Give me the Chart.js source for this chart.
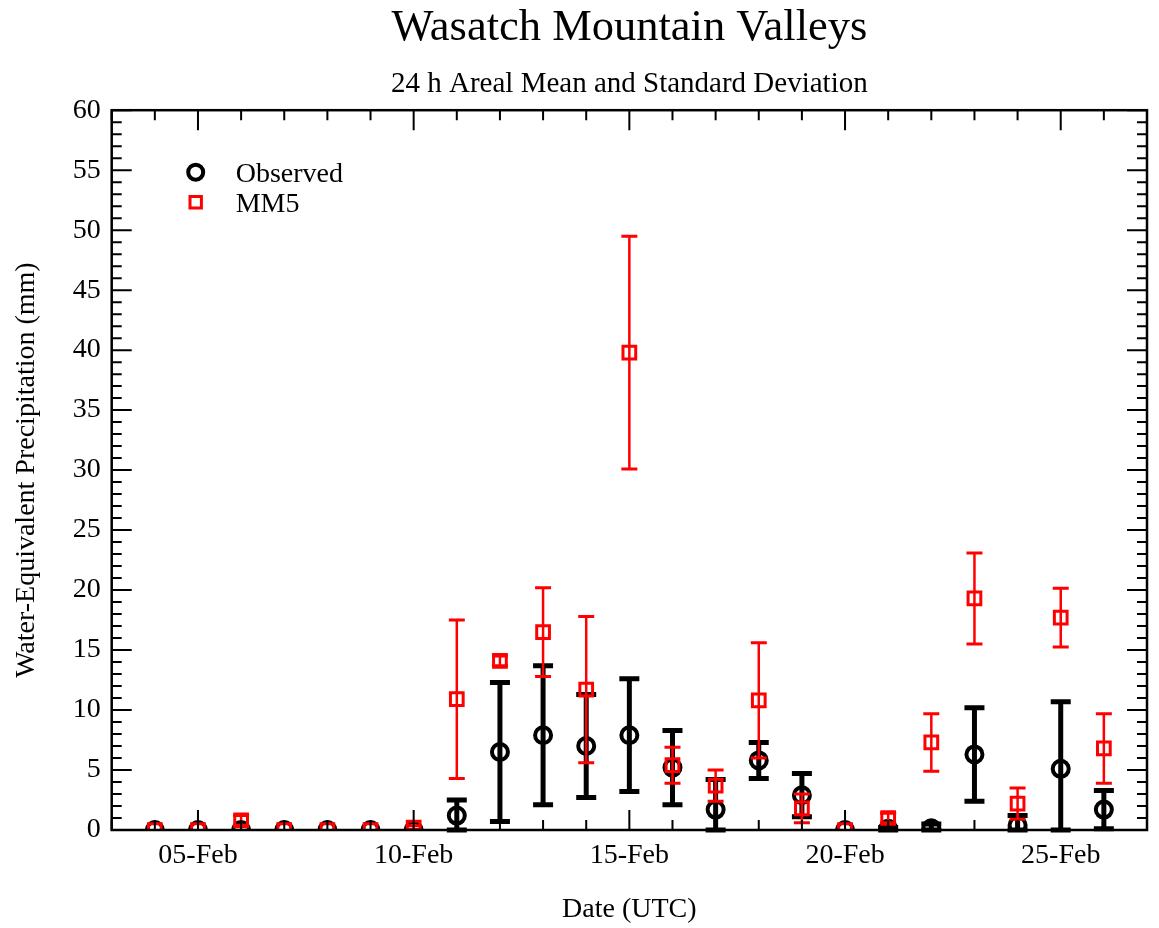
<!DOCTYPE html>
<html>
<head>
<meta charset="utf-8">
<script src="https://cdn.jsdelivr.net/npm/chart.js@4.4.1/dist/chart.umd.min.js"></script>
<style>
  html, body { margin: 0; padding: 0; background: #fff; }
  #wrap { width: 1159px; height: 928px; }
</style>
</head>
<body>
<div id="wrap"><canvas id="chart"></canvas></div>
<script>
// dias de fevereiro (UTC)
const days = [4, 5, 6, 7, 8, 9, 10, 11, 12, 13, 14, 15, 16, 17, 18, 19, 20, 21, 22, 23, 24, 25, 26];

// observado: media e desvio padrao (mm)
const obsMean = [0, 0, 0, 0, 0, 0, 0, 1.2, 6.5, 7.9, 7.0, 7.9, 5.2, 1.7, 5.8, 2.9, 0, 0.1, 0.15, 6.3, 0.4, 5.1, 1.7];
const obsSd   = [0, 0, 0, 0, 0, 0, 0, 1.3, 5.8, 5.8, 4.3, 4.7, 3.1, 2.5, 1.5, 1.8, 0, 0.1, 0.35, 3.9, 0.8, 5.6, 1.6];

// MM5: media e desvio padrao (mm)
const mm5Mean = [0, 0, 0.8, 0, 0, 0, 0.2, 10.9, 14.1, 16.5, 11.7, 39.8, 5.4, 3.7, 10.8, 1.8, 0, 1.0, 7.3, 19.3, 2.2, 17.7, 6.8];
const mm5Sd   = [0, 0, 0.4, 0, 0, 0, 0.15, 6.6, 0.4, 3.7, 6.1, 9.7, 1.5, 1.3, 4.8, 1.2, 0, 0.4, 2.4, 3.8, 1.3, 2.45, 2.9];

const FONT = 'Liberation Serif';
const TXT = 28;

// barras de erro desenhadas antes de cada dataset
const errorBars = {
    id: 'errorBars',
    beforeDatasetDraw(chart, args) {
        const ds = chart.data.datasets[args.index];
        if (!ds.sd) return;
        const { ctx, scales: { x, y } } = chart;
        const eb = ds.errorStyle;
        ctx.save();
        ctx.strokeStyle = ds.borderColor;
        ds.data.forEach((p, i) => {
            const s = ds.sd[i];
            if (!s) return;
            const px = x.getPixelForValue(p.x);
            const top = y.getPixelForValue(p.y + s);
            const bot = y.getPixelForValue(Math.max(0, p.y - s));
            ctx.lineWidth = eb.line;
            ctx.beginPath();
            ctx.moveTo(px, top);
            ctx.lineTo(px, bot);
            ctx.stroke();
            ctx.lineWidth = eb.cap;
            ctx.beginPath();
            ctx.moveTo(px - eb.half, top);
            ctx.lineTo(px + eb.half, top);
            ctx.moveTo(px - eb.half, bot);
            ctx.lineTo(px + eb.half, bot);
            ctx.stroke();
        });
        ctx.restore();
    }
};

// moldura, ticks para dentro e legenda
const frame = {
    id: 'frame',
    afterDatasetsDraw(chart) {
        const { ctx, chartArea: a, scales: { x, y } } = chart;
        ctx.save();
        ctx.strokeStyle = '#000';
        ctx.lineWidth = 2;
        ctx.beginPath();
        for (let d = x.min; d <= x.max; d++) {
            const px = x.getPixelForValue(d);
            const len = d % 5 === 0 ? 20 : 10;
            ctx.moveTo(px, a.bottom); ctx.lineTo(px, a.bottom - len);
            ctx.moveTo(px, a.top); ctx.lineTo(px, a.top + len);
        }
        for (let v = y.min; v <= y.max; v++) {
            const py = y.getPixelForValue(v);
            const len = v % 5 === 0 ? 20 : 10;
            ctx.moveTo(a.left, py); ctx.lineTo(a.left + len, py);
            ctx.moveTo(a.right, py); ctx.lineTo(a.right - len, py);
        }
        ctx.stroke();
        ctx.lineWidth = 2.5;
        ctx.strokeRect(a.left, a.top, a.right - a.left, a.bottom - a.top);

        // legenda
        const lx = a.left + 84, ly = a.top + 62;
        ctx.font = TXT + 'px "' + FONT + '"';
        ctx.fillStyle = '#000';
        ctx.textBaseline = 'alphabetic';
        chart.data.datasets.forEach((ds, i) => {
            const cy = ly + i * 30;
            ctx.strokeStyle = ds.borderColor;
            ctx.lineWidth = ds.legendStyle.width;
            ctx.beginPath();
            if (ds.pointStyle === 'circle') {
                ctx.arc(lx, cy, 7.5, 0, Math.PI * 2);
            } else {
                ctx.rect(lx - 5.7, cy - 5.7, 11.4, 11.4);
            }
            ctx.stroke();
            ctx.fillText(ds.label, lx + 40, cy + 10);
        });
        ctx.restore();
    }
};

new Chart(document.getElementById('chart'), {
    type: 'scatter',
    data: {
        datasets: [
            {
                label: 'Observed',
                data: days.map((d, i) => ({ x: d, y: obsMean[i] })),
                sd: obsSd,
                errorStyle: { line: 5, cap: 5, half: 10 },
                legendStyle: { width: 4 },
                pointStyle: 'circle',
                pointRadius: 8,
                borderWidth: 4,
                borderColor: '#000',
                backgroundColor: 'rgba(0,0,0,0)',
                order: 2
            },
            {
                label: 'MM5',
                data: days.map((d, i) => ({ x: d, y: mm5Mean[i] })),
                sd: mm5Sd,
                errorStyle: { line: 2.5, cap: 3, half: 8 },
                legendStyle: { width: 3 },
                pointStyle: 'rect',
                pointRadius: 9,
                borderWidth: 3,
                borderColor: '#ff0000',
                backgroundColor: 'rgba(0,0,0,0)',
                order: 1
            }
        ]
    },
    options: {
        responsive: true,
        maintainAspectRatio: false,
        animation: false,
        layout: { padding: { left: 0, right: 9, top: 0, bottom: 0 } },
        plugins: {
            legend: { display: false },
            tooltip: { enabled: false },
            title: {
                display: true,
                text: 'Wasatch Mountain Valleys',
                color: '#000',
                fullSize: false,
                font: { family: FONT, size: 44.5, weight: 'normal' },
                padding: { top: 2, bottom: 6 }
            },
            subtitle: {
                display: true,
                text: '24 h Areal Mean and Standard Deviation',
                color: '#000',
                fullSize: false,
                font: { family: FONT, size: 29, weight: 'normal' },
                padding: { top: 6, bottom: 8 }
            }
        },
        scales: {
            x: {
                type: 'linear',
                min: 3,
                max: 27,
                grid: { display: false },
                border: { display: false },
                afterFit(s) { s.height = 98; },
                ticks: {
                    stepSize: 1,
                    autoSkip: false,
                    maxRotation: 0,
                    padding: 1,
                    color: '#000',
                    font: { family: FONT, size: TXT },
                    callback: v => v % 5 === 0 ? String(v).padStart(2, '0') + '-Feb' : ''
                },
                title: {
                    display: true,
                    text: 'Date (UTC)',
                    color: '#000',
                    font: { family: FONT, size: TXT },
                    padding: { top: 0, bottom: 1.5 }
                }
            },
            y: {
                min: 0,
                max: 60,
                grid: { display: false },
                border: { display: false },
                afterFit(s) { s.width = 111.7; },
                ticks: {
                    stepSize: 5,
                    padding: 3,
                    color: '#000',
                    font: { family: FONT, size: TXT }
                },
                title: {
                    display: true,
                    text: 'Water-Equivalent Precipitation (mm)',
                    color: '#000',
                    font: { family: FONT, size: TXT },
                    padding: { top: 10, bottom: 0 }
                }
            }
        }
    },
    plugins: [errorBars, frame]
});
</script>
</body>
</html>
